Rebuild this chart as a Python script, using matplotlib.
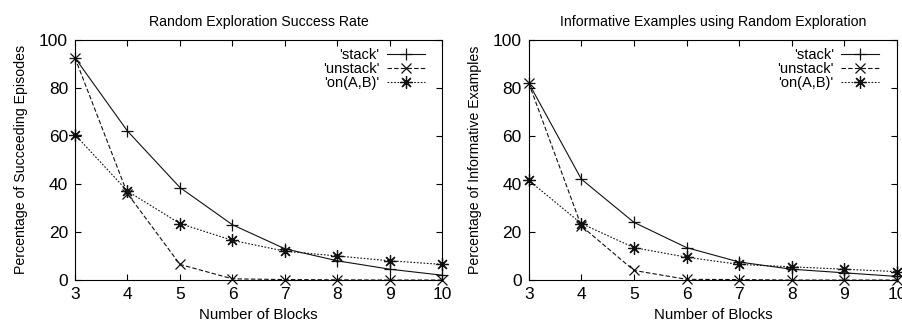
import matplotlib
matplotlib.use("Agg")
import matplotlib.pyplot as plt

plt.rcParams['font.family'] = ['Liberation Sans', 'DejaVu Sans']

blocks = [3, 4, 5, 6, 7, 8, 9, 10]

# Left: Random Exploration Success Rate
succ_stack = [92.5, 62, 38.5, 23, 13, 8, 4.5, 2]
succ_unstack = [92.5, 36, 6.5, 0.5, 0.2, 0.1, 0, 0]
succ_on = [60.5, 37, 23.5, 16.5, 12, 10, 8, 6.5]

# Right: Informative Examples using Random Exploration
inf_stack = [82, 42, 24, 13.5, 7.5, 4.5, 3, 1.5]
inf_unstack = [82, 22.5, 4, 0.3, 0.2, 0, 0, 0]
inf_on = [41.5, 23.5, 13.5, 9.5, 6.5, 5.5, 4.5, 3.5]

labels = ["'stack'", "'unstack'", "'on(A,B)'"]
titles = ["Random Exploration Success Rate", "Informative Examples using Random Exploration"]
ylabels = ["Percentage of Succeeding Episodes", "Percentage of Informative Examples"]
xlabel = "Number of Blocks"
yticks = [0, 20, 40, 60, 80, 100]

fig = plt.figure(figsize=(9.03, 3.23), dpi=100)
ax1 = fig.add_axes([0.083, 0.133, 0.407, 0.744])
ax2 = fig.add_axes([0.5855, 0.133, 0.4079, 0.744])

styles = [
    dict(linestyle='-', marker='+', markersize=9),
    dict(linestyle=(0, (4, 2)), marker='x', markersize=7),
    dict(linestyle=(0, (1.5, 1.5)), marker=(8, 2, 0), markersize=9),
]

for ax, data, title, ylab in [
    (ax1, [succ_stack, succ_unstack, succ_on], titles[0], ylabels[0]),
    (ax2, [inf_stack, inf_unstack, inf_on], titles[1], ylabels[1]),
]:
    for vals, lab, st in zip(data, labels, styles):
        ax.plot(blocks, vals, color='#111111', linewidth=0.8,
                markeredgewidth=0.9, label=lab, clip_on=False, **st)
    ax.set_xlim(3, 10)
    ax.set_ylim(0, 100)
    ax.set_xticks(blocks)
    ax.set_yticks(yticks)
    ax.tick_params(direction='in', top=True, right=True, labelsize=12.5,
                   length=4, width=0.8, pad=5)
    for sp in ax.spines.values():
        sp.set_linewidth(0.8)
    ax.set_title(title, fontsize=10.2, pad=10)
    ax.set_xlabel(xlabel, fontsize=10.8, labelpad=4)
    ax.set_ylabel(ylab, fontsize=10.2, labelpad=8)
    ax.legend(loc='upper right', bbox_to_anchor=(0.975, 1.0), frameon=False,
              markerfirst=False, fontsize=10.5, handlelength=2.6,
              labelspacing=0.0, borderaxespad=0.2, handletextpad=0.5)

fig.savefig("out.png", dpi=100)
